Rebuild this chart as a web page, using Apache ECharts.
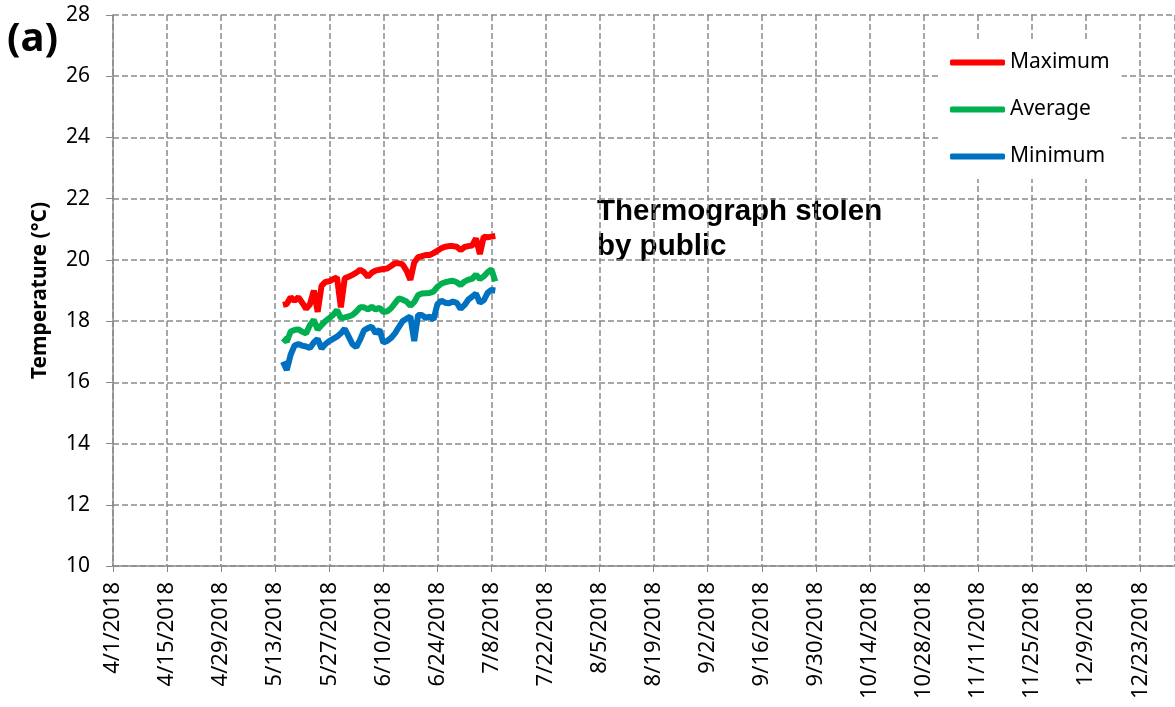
<!DOCTYPE html>
<html>
<head>
<meta charset="utf-8">
<script src="https://cdn.jsdelivr.net/npm/echarts@6/dist/echarts.min.js"></script>
<style>
  html, body { margin: 0; padding: 0; background: #fff; }
  #chart { width: 1175px; height: 707px; }
</style>
</head>
<body>
<div id="chart"></div>
<script>
// axis origin and first logged day (5/15/2018), one reading per day
var axisStart = new Date(2018, 3, 1);
var firstDay = new Date(2018, 4, 15);

var maxTemp = [18.53, 18.56, 18.78, 18.66, 18.78, 18.60, 18.40, 18.55, 19.00, 18.30,
  19.15, 19.28, 19.30, 19.37, 19.43, 18.45, 19.40, 19.45, 19.51, 19.58,
  19.68, 19.60, 19.45, 19.58, 19.65, 19.68, 19.70, 19.72, 19.80, 19.89,
  19.89, 19.85, 19.65, 19.35, 19.91, 20.09, 20.12, 20.16, 20.16, 20.22,
  20.30, 20.38, 20.43, 20.45, 20.45, 20.43, 20.32, 20.42, 20.45, 20.47,
  20.70, 20.19, 20.76, 20.74, 20.76, 20.78];
var avgTemp = [17.44, 17.33, 17.66, 17.71, 17.73, 17.65, 17.60, 17.87, 18.04, 17.72,
  17.87, 18.00, 18.10, 18.20, 18.36, 18.10, 18.12, 18.15, 18.20, 18.31,
  18.45, 18.45, 18.38, 18.47, 18.38, 18.44, 18.30, 18.32, 18.42, 18.58,
  18.74, 18.70, 18.64, 18.50, 18.62, 18.85, 18.90, 18.91, 18.92, 18.96,
  19.12, 19.22, 19.27, 19.30, 19.32, 19.27, 19.18, 19.29, 19.35, 19.38,
  19.52, 19.37, 19.46, 19.60, 19.69, 19.30];
var minTemp = [16.67, 16.40, 16.90, 17.20, 17.25, 17.20, 17.17, 17.12, 17.30, 17.42,
  17.10, 17.25, 17.35, 17.42, 17.49, 17.60, 17.75, 17.50, 17.25, 17.15,
  17.40, 17.70, 17.77, 17.82, 17.60, 17.72, 17.30, 17.35, 17.45, 17.60,
  17.80, 18.00, 18.08, 18.15, 17.35, 18.20, 18.20, 18.10, 18.15, 18.05,
  18.55, 18.67, 18.60, 18.58, 18.64, 18.60, 18.40, 18.52, 18.70, 18.80,
  18.90, 18.60, 18.68, 18.92, 19.02, 19.00];

var seriesNames = ['Maximum', 'Average', 'Minimum'];
var seriesColors = ['#ff0000', '#00b050', '#0070c0'];

var DAY = 24 * 3600 * 1000;
var offset0 = Math.round((firstDay - axisStart) / DAY);

function pairs(arr) {
  return arr.map(function (v, i) { return [offset0 + i, v]; });
}
function dayLabel(v) {
  if (v % 14 !== 0) return '';
  var d = new Date(2018, 3, 1 + v);
  return (d.getMonth() + 1) + '/' + d.getDate() + '/' + d.getFullYear();
}

var chart = echarts.init(document.getElementById('chart'));
var gridColor = '#8a8a8a';
var font = 'Noto Sans';

chart.setOption({
  animation: false,
  backgroundColor: '#fff',
  grid: { left: 113, right: 0, top: 15, bottom: 141, outerBoundsMode: 'none' },
  legend: {
    orient: 'vertical',
    left: 940, top: 40,
    padding: [12, 12, 12, 10],
    backgroundColor: '#fff',
    icon: 'roundRect',
    itemWidth: 55, itemHeight: 6,
    itemGap: 26,
    textStyle: { fontFamily: font, fontSize: 21, color: '#000', lineHeight: 20 },
    data: seriesNames
  },
  xAxis: {
    type: 'value',
    min: 0, max: 275, interval: 14,
    axisLine: { lineStyle: { color: gridColor, width: 1.5 } },
    axisTick: { show: true, length: 6, lineStyle: { color: gridColor } },
    axisLabel: {
      rotate: 90, margin: 16, showMaxLabel: false,
      fontFamily: font, fontSize: 22, color: '#000',
      formatter: dayLabel
    },
    splitLine: { show: true, lineStyle: { color: gridColor, type: [6, 3], width: 1.5 } }
  },
  yAxis: {
    type: 'value',
    min: 10, max: 28, interval: 2,
    name: 'Temperature (°C)',
    nameLocation: 'middle', nameGap: 62,
    nameTextStyle: { fontFamily: font, fontSize: 21, fontWeight: 'bold', color: '#000' },
    axisLine: { show: true, lineStyle: { color: gridColor, width: 1.5 } },
    axisTick: { show: true, length: 7, lineStyle: { color: gridColor } },
    axisLabel: { margin: 23, fontFamily: font, fontSize: 21, color: '#000' },
    splitLine: { show: true, lineStyle: { color: gridColor, type: [6, 3], width: 1.5 } }
  },
  graphic: [
    {
      type: 'text', left: 7, top: 20,
      style: { text: '(a)', fontFamily: font, fontSize: 40, fontWeight: 'bold', fill: '#000' }
    },
    {
      type: 'text', left: 597, top: 194,
      style: {
        text: 'Thermograph stolen\nby public',
        fontFamily: 'Liberation Sans', fontSize: 29.5, fontWeight: 'bold',
        lineHeight: 35, fill: '#000'
      }
    }
  ],
  series: [
    { name: seriesNames[0], type: 'line', data: pairs(maxTemp), showSymbol: false,
      lineStyle: { width: 6, color: seriesColors[0] }, itemStyle: { color: seriesColors[0] } },
    { name: seriesNames[1], type: 'line', data: pairs(avgTemp), showSymbol: false,
      lineStyle: { width: 6, color: seriesColors[1] }, itemStyle: { color: seriesColors[1] } },
    { name: seriesNames[2], type: 'line', data: pairs(minTemp), showSymbol: false,
      lineStyle: { width: 6, color: seriesColors[2] }, itemStyle: { color: seriesColors[2] } }
  ]
});
</script>
</body>
</html>
